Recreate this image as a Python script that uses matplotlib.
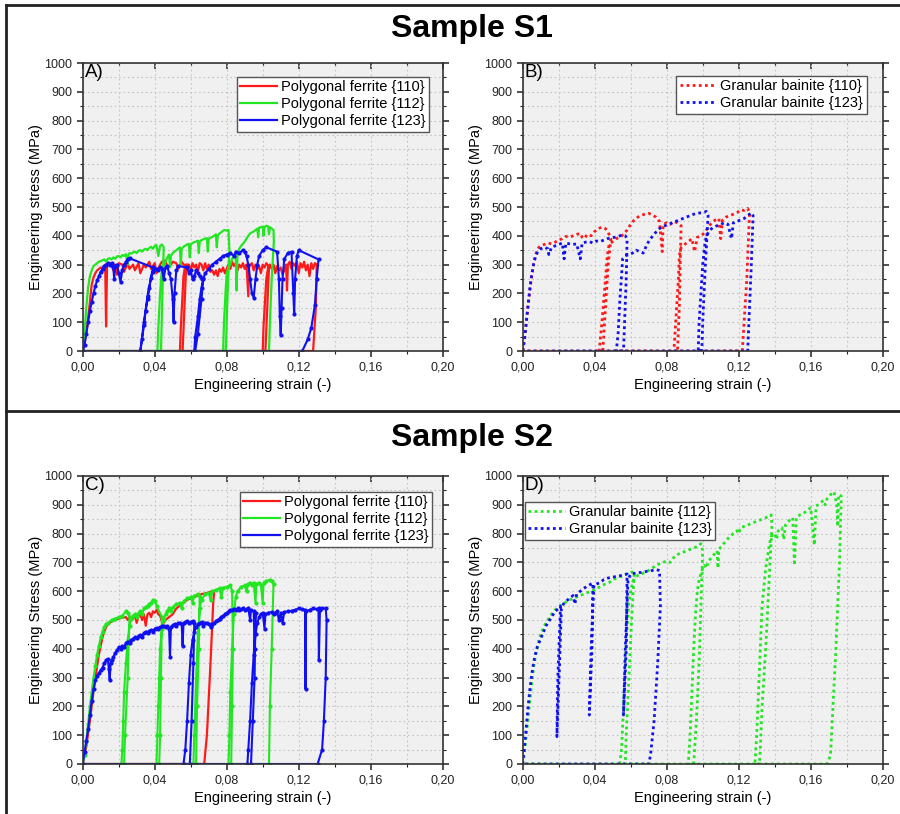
import matplotlib
matplotlib.use("Agg")
import matplotlib.pyplot as plt
from matplotlib.ticker import MultipleLocator, FuncFormatter
from matplotlib.lines import Line2D

plt.rcParams['font.family'] = ['Liberation Sans', 'DejaVu Sans']

RED = '#ff1a1a'
GREEN = '#22e622'
BLUE = '#1010f0'

# ---------------- Sample S1, polygonal ferrite ----------------
s1_pf110_strain = [
    0.000, 0.002, 0.004, 0.005, 0.006, 0.007, 0.008, 0.009, 0.010, 0.011, 0.012, 0.0125, 0.013, 0.0135,
    0.014, 0.016, 0.017, 0.018, 0.019, 0.020, 0.022, 0.023, 0.025, 0.026, 0.028, 0.029, 0.031, 0.032,
    0.034, 0.035, 0.037, 0.038, 0.040, 0.041, 0.043, 0.044, 0.046, 0.047, 0.049, 0.050, 0.052, 0.053,
    0.055, 0.056, 0.0575, 0.0555, 0.054, 0.0545, 0.056, 0.057,
    0.059, 0.060, 0.061, 0.062, 0.063, 0.064, 0.065, 0.066, 0.067, 0.068, 0.069, 0.070, 0.071, 0.072,
    0.073, 0.074, 0.075, 0.076, 0.077, 0.078, 0.079, 0.080, 0.081, 0.082, 0.083, 0.084, 0.085, 0.086,
    0.087, 0.088, 0.089, 0.090, 0.091, 0.092, 0.0925, 0.094, 0.095, 0.096, 0.097, 0.098, 0.099, 0.100,
    0.101, 0.102, 0.1035, 0.1015, 0.100, 0.1005, 0.102, 0.103,
    0.104, 0.105, 0.106, 0.107, 0.108, 0.109, 0.110, 0.111, 0.112, 0.113, 0.1135, 0.114, 0.115, 0.116,
    0.117, 0.118, 0.119, 0.120, 0.121, 0.122, 0.123, 0.124, 0.125, 0.126, 0.127, 0.128, 0.129, 0.130,
    0.1295, 0.128, 0.000]
s1_pf110_stress = [
    0, 60, 170, 230, 255, 270, 280, 285, 290, 288, 295, 300, 85, 290,
    300, 305, 280, 300, 265, 305, 300, 275, 305, 285, 300, 280, 305, 270,
    300, 290, 310, 285, 305, 270, 300, 310, 315, 290, 300, 310, 305, 285,
    310, 300, 295, 0, 0, 80, 260, 300,
    300, 280, 305, 290, 300, 275, 305, 300, 280, 305, 285, 300, 275, 280,
    265, 280, 260, 285, 275, 290, 270, 285, 300, 285, 310, 295, 305, 280,
    300, 290, 305, 285, 300, 190, 295, 305, 280, 300, 285, 295, 270, 300,
    290, 305, 290, 0, 0, 90, 250, 290,
    300, 285, 300, 270, 295, 280, 290, 265, 280, 300, 210, 300, 310, 285,
    305, 295, 310, 270, 305, 290, 310, 280, 300, 260, 305, 285, 305, 300,
    150, 0, 0]

s1_pf112_strain = [
    0.000, 0.001, 0.002, 0.003, 0.004, 0.005, 0.006, 0.007, 0.008, 0.009, 0.010, 0.011, 0.012, 0.013,
    0.014, 0.015, 0.016, 0.017, 0.018, 0.019, 0.020, 0.021, 0.022, 0.023, 0.024, 0.025, 0.0255, 0.026,
    0.027, 0.028, 0.029, 0.030, 0.031, 0.032, 0.033, 0.034, 0.035, 0.036, 0.037, 0.038, 0.039, 0.040,
    0.041, 0.042, 0.043, 0.044, 0.045, 0.0445, 0.0435, 0.0415, 0.042, 0.043, 0.0435, 0.044, 0.045,
    0.046, 0.047, 0.048, 0.0485, 0.049, 0.050, 0.051, 0.052, 0.053, 0.054, 0.0545, 0.055, 0.056, 0.057,
    0.058, 0.059, 0.0595, 0.060, 0.061, 0.062, 0.063, 0.064, 0.0645, 0.065, 0.066, 0.067, 0.068, 0.069,
    0.0695, 0.070, 0.071, 0.072, 0.073, 0.074, 0.0745, 0.075, 0.076, 0.077, 0.078, 0.079, 0.080, 0.081,
    0.0815, 0.0805, 0.0795, 0.078, 0.0785, 0.0795, 0.080, 0.081,
    0.082, 0.083, 0.084, 0.085, 0.0855, 0.086, 0.087, 0.088, 0.089, 0.090, 0.091, 0.092, 0.093, 0.094,
    0.095, 0.096, 0.097, 0.0975, 0.098, 0.099, 0.100, 0.1005, 0.101, 0.102, 0.103, 0.1035, 0.104, 0.105,
    0.106, 0.1062, 0.105, 0.104, 0.1035, 0.000]
s1_pf112_stress = [
    0, 60, 150, 220, 260, 280, 295, 300, 305, 310, 312, 315, 318, 310,
    320, 322, 318, 325, 320, 328, 330, 325, 333, 330, 336, 300, 335, 340,
    338, 342, 345, 340, 348, 350, 345, 352, 355, 350, 358, 362, 355, 365,
    368, 330, 365, 370, 360, 250, 0, 0, 80, 200, 250, 280, 300,
    310, 325, 335, 290, 330, 340, 345, 350, 355, 360, 300, 355, 362, 366,
    370, 372, 325, 370, 375, 378, 380, 383, 340, 380, 385, 388, 390, 392,
    345, 390, 393, 396, 400, 405, 360, 400, 408, 412, 418, 420, 418, 420,
    350, 200, 0, 0, 100, 220, 270, 290,
    300, 320, 330, 340, 210, 340, 355, 365, 372, 380, 390, 400, 408, 412,
    415, 420, 425, 395, 428, 430, 432, 400, 430, 435, 433, 405, 430, 425,
    420, 380, 250, 100, 0, 0]

s1_pf123_strain = [
    0.000, 0.001, 0.002, 0.003, 0.004, 0.005, 0.006, 0.007, 0.008, 0.009, 0.010, 0.011, 0.012, 0.013,
    0.014, 0.015, 0.016, 0.017, 0.0175, 0.018, 0.019, 0.020, 0.021, 0.022, 0.023, 0.024, 0.025, 0.026,
    0.039, 0.036, 0.034, 0.032, 0.033, 0.034, 0.035, 0.036, 0.037, 0.038, 0.039, 0.040, 0.041,
    0.042, 0.043, 0.044, 0.045, 0.046, 0.047, 0.048, 0.049, 0.050, 0.0505, 0.051, 0.052, 0.053,
    0.058, 0.059, 0.060, 0.061, 0.062, 0.063, 0.064, 0.065, 0.066, 0.067,
    0.066, 0.064, 0.0625, 0.062, 0.0625, 0.064, 0.065, 0.066, 0.067, 0.068, 0.070, 0.072, 0.074,
    0.076, 0.078, 0.080, 0.082, 0.084, 0.085, 0.087, 0.089, 0.090, 0.091, 0.092, 0.093, 0.094, 0.095,
    0.096, 0.097, 0.098, 0.100, 0.102, 0.108, 0.109, 0.1095, 0.110, 0.1105, 0.111, 0.112, 0.114,
    0.116, 0.117, 0.1175, 0.118, 0.119, 0.120, 0.131, 0.130, 0.129, 0.127, 0.125, 0.122, 0.000]
s1_pf123_stress = [
    0, 20, 60, 100, 140, 170, 200, 225, 245, 260, 275, 285, 295, 300,
    305, 300, 305, 290, 250, 295, 300, 270, 240, 280, 300, 310, 320, 322,
    290, 190, 100, 0, 40, 90, 140, 180, 220, 255, 275, 285, 285,
    280, 290, 285, 250, 290, 295, 270, 250, 180, 100, 200, 280, 295,
    290, 270, 280, 250, 260, 280, 270, 260, 250, 255,
    180, 60, 0, 0, 50, 120, 180, 220, 250, 270, 285, 300, 310,
    320, 330, 335, 340, 330, 345, 340, 350, 345, 330, 300, 250, 200, 185,
    250, 300, 330, 350, 360, 345, 250, 120, 55, 150, 250, 320, 340,
    345, 200, 130, 250, 330, 350, 318, 250, 160, 80, 40, 0, 0]

# ---------------- Sample S1, granular bainite ----------------
s1_gb110_strain = [
    0.000, 0.001, 0.002, 0.003, 0.004, 0.005, 0.006, 0.007, 0.008, 0.009, 0.010, 0.012, 0.014, 0.016,
    0.018, 0.020, 0.022, 0.024, 0.026, 0.028, 0.030, 0.032, 0.033, 0.034, 0.036, 0.038, 0.040, 0.042,
    0.044, 0.046, 0.048, 0.049, 0.0475, 0.046, 0.0445, 0.0425, 0.044, 0.046, 0.047, 0.048, 0.050, 0.052,
    0.054, 0.056, 0.058, 0.060, 0.062, 0.064, 0.066, 0.068, 0.070, 0.072, 0.074, 0.076, 0.0775, 0.078,
    0.080, 0.082, 0.084, 0.086, 0.088, 0.0875, 0.087, 0.086, 0.084, 0.085, 0.0865, 0.087, 0.088, 0.090,
    0.092, 0.094, 0.0955, 0.097, 0.099, 0.101, 0.103, 0.105, 0.107, 0.109, 0.110, 0.111, 0.113, 0.115,
    0.117, 0.119, 0.121, 0.123, 0.125, 0.126, 0.1245, 0.122, 0.000]
s1_gb110_stress = [
    0, 40, 100, 160, 210, 260, 300, 330, 350, 360, 365, 370, 375, 372,
    378, 385, 390, 398, 395, 400, 405, 408, 395, 390, 405, 400, 415, 425,
    430, 425, 405, 390, 300, 150, 0, 0, 100, 250, 330, 370, 380, 390,
    395, 405, 420, 440, 455, 465, 472, 475, 478, 472, 465, 450, 345, 440,
    445, 440, 450, 445, 435, 300, 150, 0, 0, 100, 250, 330, 360, 370,
    380, 390, 345, 395, 400, 410, 430, 445, 455, 460, 390, 455, 465, 470,
    475, 480, 490, 488, 495, 480, 250, 0, 0]

s1_gb123_strain = [
    0.000, 0.001, 0.002, 0.003, 0.004, 0.005, 0.006, 0.007, 0.008, 0.009, 0.010, 0.012, 0.014, 0.0145,
    0.016, 0.018, 0.020, 0.022, 0.023, 0.024, 0.026, 0.028, 0.030, 0.032, 0.033, 0.035, 0.037, 0.039,
    0.041, 0.043, 0.045, 0.047, 0.049, 0.051, 0.053, 0.055, 0.057, 0.058, 0.0575, 0.056, 0.052, 0.053,
    0.054, 0.055, 0.0555, 0.057, 0.059, 0.061, 0.063, 0.065, 0.067, 0.069, 0.071, 0.073, 0.075, 0.077,
    0.079, 0.081, 0.083, 0.085, 0.087, 0.089, 0.091, 0.093, 0.095, 0.097, 0.099, 0.101, 0.102, 0.103,
    0.1015, 0.100, 0.0995, 0.0975, 0.098, 0.099, 0.100, 0.101, 0.102, 0.104, 0.106, 0.108, 0.110, 0.112,
    0.114, 0.116, 0.117, 0.119, 0.121, 0.123, 0.125, 0.127, 0.128, 0.127, 0.125, 0.000]
s1_gb123_stress = [
    0, 40, 100, 160, 220, 265, 300, 325, 340, 350, 355, 360, 355, 335,
    360, 365, 370, 375, 320, 375, 372, 370, 372, 320, 375, 378, 380, 375,
    382, 380, 385, 390, 392, 395, 398, 402, 400, 390, 250, 0, 0, 60,
    180, 270, 320, 330, 335, 340, 350, 345, 340, 370, 390, 405, 420, 430,
    435, 440, 445, 450, 455, 460, 465, 470, 475, 478, 480, 482, 485, 470,
    300, 100, 0, 0, 100, 200, 300, 360, 400, 420, 430, 435, 440, 445,
    440, 390, 445, 450, 455, 460, 470, 480, 470, 300, 0, 0]

# ---------------- Sample S2, polygonal ferrite ----------------
s2_pf110_strain = [
    0.000, 0.002, 0.004, 0.006, 0.008, 0.009, 0.010, 0.011, 0.012, 0.013, 0.014, 0.016, 0.018, 0.020,
    0.022, 0.024, 0.025, 0.026, 0.028, 0.029, 0.030, 0.031, 0.032, 0.033, 0.034, 0.035, 0.036, 0.037,
    0.038, 0.039, 0.040, 0.041, 0.042, 0.043, 0.044, 0.045, 0.046, 0.048, 0.050, 0.052, 0.054, 0.056,
    0.058, 0.060, 0.062, 0.064, 0.066, 0.068, 0.070, 0.072, 0.073, 0.0725, 0.071, 0.069, 0.0675, 0.000]
s2_pf110_stress = [
    0, 60, 150, 250, 340, 380, 410, 440, 460, 475, 485, 495, 500, 505,
    508, 510, 500, 512, 505, 515, 490, 515, 520, 500, 520, 480, 520, 525,
    510, 530, 525, 535, 520, 515, 495, 490, 500, 510, 520, 540, 550, 560,
    570, 575, 580, 585, 590, 592, 596, 600, 595, 560, 350, 100, 0, 0]

s2_pf112_strain = [
    0.000, 0.001, 0.002, 0.003, 0.004, 0.005, 0.006, 0.007, 0.008, 0.009, 0.010, 0.011, 0.012, 0.013,
    0.014, 0.016, 0.018, 0.020, 0.022, 0.024, 0.025, 0.026, 0.025, 0.0235, 0.023, 0.0215, 0.022, 0.0225,
    0.023, 0.024, 0.025, 0.026, 0.027, 0.028, 0.029, 0.030, 0.031, 0.032, 0.033, 0.034, 0.035, 0.036,
    0.037, 0.038, 0.039, 0.040, 0.041, 0.044, 0.0435, 0.043, 0.0425, 0.041, 0.0415, 0.042, 0.0425, 0.043,
    0.044, 0.045, 0.046, 0.047, 0.048, 0.049, 0.050, 0.052, 0.054, 0.055, 0.056, 0.058, 0.060, 0.061,
    0.062, 0.064, 0.065, 0.0645, 0.0635, 0.063, 0.0615, 0.062, 0.063, 0.064, 0.065, 0.066, 0.068, 0.070,
    0.071, 0.072, 0.074, 0.076, 0.077, 0.078, 0.080, 0.082, 0.083, 0.0835, 0.083, 0.0825, 0.081, 0.0815,
    0.082, 0.083, 0.084, 0.085, 0.086, 0.088, 0.090, 0.091, 0.092, 0.093, 0.094, 0.095, 0.096, 0.0965,
    0.098, 0.099, 0.100, 0.1005, 0.102, 0.104, 0.105, 0.106, 0.105, 0.104, 0.1035, 0.000]
s2_pf112_stress = [
    0, 30, 80, 140, 200, 250, 300, 340, 380, 410, 440, 460, 475, 485,
    490, 500, 505, 510, 515, 530, 525, 510, 300, 100, 0, 0, 50, 150,
    250, 350, 430, 480, 505, 515, 520, 510, 525, 530, 520, 540, 545, 550,
    555, 560, 570, 565, 550, 510, 300, 100, 0, 0, 100, 200, 300, 400,
    470, 500, 520, 530, 540, 530, 545, 555, 560, 540, 565, 575, 580, 560,
    585, 590, 580, 400, 200, 0, 0, 100, 300, 450, 540, 570, 590, 595,
    570, 600, 605, 610, 580, 612, 615, 620, 600, 400, 200, 0, 0, 100,
    250, 400, 520, 580, 600, 615, 620, 600, 625, 630, 620, 630, 560, 625,
    630, 620, 560, 630, 635, 640, 635, 625, 400, 200, 0, 0]

s2_pf123_strain = [
    0.000, 0.001, 0.002, 0.003, 0.004, 0.005, 0.006, 0.007, 0.008, 0.009, 0.010, 0.011, 0.012, 0.013,
    0.014, 0.0145, 0.015, 0.0155, 0.016, 0.017, 0.018, 0.019, 0.020, 0.021, 0.022, 0.023, 0.024, 0.025,
    0.026, 0.027, 0.028, 0.029, 0.030, 0.031, 0.032, 0.033, 0.034, 0.035, 0.036, 0.037, 0.038, 0.039,
    0.040, 0.041, 0.042, 0.043, 0.044, 0.045, 0.046, 0.047, 0.048, 0.0485, 0.049, 0.050, 0.051, 0.052,
    0.053, 0.054, 0.055, 0.0555, 0.056, 0.057, 0.058, 0.059, 0.060, 0.061, 0.062, 0.0615, 0.0605, 0.0595,
    0.056, 0.057, 0.058, 0.059, 0.060, 0.061, 0.062, 0.063, 0.064, 0.065, 0.066, 0.067, 0.068, 0.069,
    0.070, 0.071, 0.0715, 0.072, 0.073, 0.074, 0.075, 0.076, 0.077, 0.078, 0.079, 0.080, 0.081, 0.082,
    0.083, 0.084, 0.085, 0.086, 0.087, 0.088, 0.089, 0.090, 0.091, 0.092, 0.093, 0.0935, 0.095, 0.0955,
    0.096, 0.0955, 0.0945, 0.0935, 0.0915, 0.092, 0.093, 0.094, 0.095, 0.096, 0.097, 0.098, 0.099, 0.100,
    0.101, 0.1015, 0.103, 0.105, 0.106, 0.107, 0.108, 0.109, 0.110, 0.111, 0.112, 0.114, 0.116, 0.118,
    0.120, 0.122, 0.1235, 0.1238, 0.124, 0.126, 0.128, 0.130, 0.131, 0.1312, 0.1318, 0.133, 0.135, 0.1355,
    0.135, 0.134, 0.133, 0.1305, 0.000]
s2_pf123_stress = [
    0, 40, 80, 120, 170, 220, 260, 290, 305, 315, 325, 335, 350, 360,
    365, 330, 290, 350, 360, 370, 385, 395, 405, 400, 410, 405, 420, 425,
    420, 430, 435, 440, 438, 445, 448, 440, 455, 460, 455, 462, 465, 460,
    470, 472, 470, 475, 478, 480, 475, 478, 470, 370, 475, 482, 485, 480,
    488, 490, 485, 410, 488, 492, 495, 490, 493, 495, 490, 350, 150, 0,
    0, 50, 150, 280, 380, 430, 460, 475, 485, 490, 492, 480, 488, 490,
    485, 480, 475, 485, 490, 495, 500, 505, 510, 515, 520, 525, 530, 535,
    533, 538, 535, 540, 535, 538, 540, 535, 538, 540, 500, 535, 530, 400,
    525, 300, 150, 0, 0, 50, 150, 280, 380, 450, 490, 510, 520, 525,
    470, 520, 525, 528, 520, 525, 530, 500, 525, 490, 528, 530, 532, 535,
    540, 538, 535, 260, 530, 535, 540, 538, 540, 360, 535, 540, 540, 500,
    300, 150, 50, 0, 0]

# ---------------- Sample S2, granular bainite ----------------
s2_gb112_strain = [
    0.000, 0.001, 0.002, 0.003, 0.004, 0.005, 0.006, 0.007, 0.008, 0.009, 0.010, 0.012, 0.014, 0.016,
    0.018, 0.020, 0.022, 0.024, 0.026, 0.028, 0.030, 0.032, 0.034, 0.036, 0.038, 0.040, 0.042, 0.044,
    0.046, 0.048, 0.050, 0.052, 0.054, 0.056, 0.058, 0.060, 0.062, 0.0605, 0.059, 0.0575, 0.057, 0.054,
    0.055, 0.056, 0.057, 0.058, 0.059, 0.060, 0.061, 0.062, 0.064, 0.066, 0.068, 0.070, 0.072, 0.074,
    0.076, 0.078, 0.080, 0.082, 0.083, 0.085, 0.087, 0.089, 0.091, 0.093, 0.095, 0.097, 0.099, 0.100,
    0.099, 0.098, 0.0965, 0.095, 0.092, 0.093, 0.094, 0.095, 0.096, 0.097, 0.098, 0.099, 0.100, 0.101,
    0.102, 0.103, 0.104, 0.106, 0.108, 0.1085, 0.109, 0.111, 0.113, 0.115, 0.117, 0.119, 0.120, 0.121,
    0.123, 0.125, 0.127, 0.129, 0.131, 0.133, 0.135, 0.137, 0.138, 0.1385, 0.137, 0.135, 0.133, 0.132,
    0.1315, 0.129, 0.130, 0.131, 0.132, 0.133, 0.135, 0.137, 0.138, 0.140, 0.141, 0.142, 0.144, 0.145,
    0.146, 0.148, 0.150, 0.151, 0.152, 0.154, 0.156, 0.158, 0.160, 0.162, 0.163, 0.165, 0.167, 0.168,
    0.169, 0.171, 0.173, 0.1745, 0.175, 0.1755, 0.177, 0.176, 0.174, 0.172, 0.171, 0.169, 0.000]
s2_gb112_stress = [
    0, 40, 100, 160, 220, 280, 330, 370, 400, 430, 450, 480, 500, 520,
    535, 545, 555, 562, 570, 575, 580, 585, 590, 595, 600, 605, 612, 620,
    625, 630, 640, 645, 650, 655, 660, 665, 668, 500, 300, 100, 0, 0,
    60, 200, 350, 480, 560, 600, 630, 645, 655, 660, 665, 672, 680, 690,
    695, 700, 705, 700, 710, 725, 730, 735, 740, 745, 750, 755, 765, 740,
    550, 350, 150, 0, 0, 100, 250, 400, 520, 600, 640, 660, 680, 690,
    680, 700, 710, 725, 740, 680, 745, 760, 775, 790, 800, 810, 800, 820,
    825, 830, 835, 840, 845, 850, 855, 860, 865, 830, 650, 400, 200, 50,
    0, 0, 100, 250, 400, 550, 680, 760, 790, 800, 780, 810, 820, 780,
    830, 845, 855, 690, 855, 865, 870, 880, 890, 760, 895, 905, 915, 900,
    920, 935, 945, 900, 825, 935, 930, 700, 400, 150, 30, 0, 0]

s2_gb123_strain = [
    0.000, 0.001, 0.002, 0.003, 0.004, 0.005, 0.006, 0.007, 0.008, 0.009, 0.010, 0.011, 0.012, 0.013,
    0.014, 0.015, 0.016, 0.017, 0.018, 0.019, 0.020, 0.021, 0.0195, 0.019, 0.0205, 0.0215, 0.023, 0.025,
    0.027, 0.028, 0.029, 0.030, 0.032, 0.034, 0.036, 0.038, 0.039, 0.0385, 0.037, 0.038, 0.0395, 0.041,
    0.043, 0.045, 0.047, 0.049, 0.051, 0.053, 0.055, 0.057, 0.058, 0.0575, 0.056, 0.057, 0.0585, 0.060,
    0.062, 0.064, 0.066, 0.068, 0.070, 0.072, 0.074, 0.076, 0.0765, 0.075, 0.073, 0.071, 0.070, 0.000]
s2_gb123_stress = [
    0, 60, 130, 200, 260, 310, 350, 380, 405, 420, 435, 450, 465, 480,
    490, 500, 510, 520, 530, 535, 540, 548, 300, 95, 350, 540, 560, 570,
    580, 585, 555, 590, 600, 610, 618, 625, 628, 400, 170, 400, 620, 625,
    630, 640, 645, 648, 650, 652, 655, 658, 660, 400, 170, 400, 640, 660,
    662, 665, 665, 668, 670, 672, 675, 672, 550, 350, 150, 30, 0, 0]

# ---------------- labels and axis settings ----------------
pf_labels = ['Polygonal ferrite {110}', 'Polygonal ferrite {112}', 'Polygonal ferrite {123}']
gb_labels_s1 = ['Granular bainite {110}', 'Granular bainite {123}']
gb_labels_s2 = ['Granular bainite {112}', 'Granular bainite {123}']
x_ticks = [0.00, 0.04, 0.08, 0.12, 0.16, 0.20]
y_ticks = [0, 100, 200, 300, 400, 500, 600, 700, 800, 900, 1000]

FIG_W, FIG_H = 900, 814
fig = plt.figure(figsize=(FIG_W / 100, FIG_H / 100), dpi=100)


def px_axes(left, top, right, bottom):
    return fig.add_axes([left / FIG_W, 1 - bottom / FIG_H,
                         (right - left) / FIG_W, (bottom - top) / FIG_H])


def style_axes(ax, letter, ylabel):
    ax.set_facecolor('#f0f0f0')
    ax.set_xlim(0, 0.20)
    ax.set_ylim(0, 1000)
    ax.set_xticks(x_ticks)
    ax.set_yticks(y_ticks)
    ax.xaxis.set_minor_locator(MultipleLocator(0.02))
    ax.yaxis.set_minor_locator(MultipleLocator(50))
    ax.xaxis.set_major_formatter(FuncFormatter(lambda v, p: f"{v:.2f}".replace('.', ',')))
    ax.grid(which='both', linestyle=(0, (1.5, 2.5)), color='#c4c4c4', linewidth=0.8)
    ax.set_axisbelow(True)
    ax.tick_params(which='both', direction='out', labelsize=9, colors='#222222', right=True)
    ax.tick_params(which='major', length=4, width=1.1)
    ax.tick_params(which='minor', length=2.5, width=0.8)
    # inward ticks along the top edge
    top = ax.secondary_xaxis('top')
    top.set_xticks(x_ticks)
    top.xaxis.set_minor_locator(MultipleLocator(0.02))
    top.tick_params(which='both', direction='in', labeltop=False, colors='#222222')
    top.tick_params(which='major', length=4, width=1.1)
    top.tick_params(which='minor', length=2.5, width=0.8)
    top.spines['top'].set_visible(False)
    for s in ax.spines.values():
        s.set_color('#333333')
        s.set_linewidth(1.2)
    ax.set_xlabel('Engineering strain (-)', fontsize=10.5)
    ax.set_ylabel(ylabel, fontsize=10.5)
    ax.xaxis.set_label_coords(0.5, -0.095)
    ax.yaxis.set_label_coords(-0.11, 0.5)
    ax.text(0.006, 0.995, letter, transform=ax.transAxes, ha='left', va='top', fontsize=13.5)


def add_legend(ax, entries, labels, loc, anchor):
    handles = [Line2D([], [], color=c, **st) for c, st in entries]
    lg = ax.legend(handles, labels, loc=loc, bbox_to_anchor=anchor, fontsize=10.5, frameon=True,
                   fancybox=False, handlelength=2.5, handletextpad=0.3, labelspacing=0.22,
                   borderpad=0.22, borderaxespad=0)
    lg.get_frame().set_edgecolor('#555555')
    lg.get_frame().set_linewidth(1.0)
    lg.get_frame().set_facecolor('white')
    lg.get_frame().set_alpha(1)


solid = dict(linestyle='-', linewidth=1.6)
dotted = dict(linestyle=(0, (1, 1.2)), linewidth=2.0)
marked = dict(linestyle='-', linewidth=1.5, marker='o', markersize=2.0)

# Panel A: sample S1, polygonal ferrite
axA = px_axes(82.7, 63, 442.7, 351)
axA.plot(s1_pf110_strain, s1_pf110_stress, color=RED, **solid)
axA.plot(s1_pf112_strain, s1_pf112_stress, color=GREEN, **solid)
axA.plot(s1_pf123_strain, s1_pf123_stress, color=BLUE, **marked)
style_axes(axA, 'A)', 'Engineering stress (MPa)')
add_legend(axA, [(RED, solid), (GREEN, solid), (BLUE, solid)], pf_labels,
           'upper right', (0.962, 0.952))

# Panel B: sample S1, granular bainite
axB = px_axes(522.7, 63, 882.7, 351)
axB.plot(s1_gb110_strain, s1_gb110_stress, color=RED, **dotted)
axB.plot(s1_gb123_strain, s1_gb123_stress, color=BLUE, **dotted)
style_axes(axB, 'B)', 'Engineering stress (MPa)')
add_legend(axB, [(RED, dotted), (BLUE, dotted)], gb_labels_s1, 'upper right', (0.955, 0.955))

# Panel C: sample S2, polygonal ferrite
axC = px_axes(82.7, 476, 442.7, 764)
axC.plot(s2_pf110_strain, s2_pf110_stress, color=RED, **solid)
axC.plot(s2_pf112_strain, s2_pf112_stress, color=GREEN, **marked)
axC.plot(s2_pf123_strain, s2_pf123_stress, color=BLUE, **marked)
style_axes(axC, 'C)', 'Engineering Stress (MPa)')
add_legend(axC, [(RED, solid), (GREEN, solid), (BLUE, solid)], pf_labels,
           'upper right', (0.970, 0.945))

# Panel D: sample S2, granular bainite
axD = px_axes(522.7, 476, 882.7, 764)
axD.plot(s2_gb112_strain, s2_gb112_stress, color=GREEN, **dotted)
axD.plot(s2_gb123_strain, s2_gb123_stress, color=BLUE, **dotted)
style_axes(axD, 'D)', 'Engineering Stress (MPa)')
add_legend(axD, [(GREEN, dotted), (BLUE, dotted)], gb_labels_s2, 'upper left', (0.006, 0.91))

# Section titles
fig.text(0.524, 1 - 29 / FIG_H, 'Sample S1', ha='center', va='center', fontsize=23, fontweight='bold')
fig.text(0.524, 1 - 438 / FIG_H, 'Sample S2', ha='center', va='center', fontsize=23, fontweight='bold')

# Panel frame lines
fig.add_artist(Line2D([6 / FIG_W, 1], [1 - 5 / FIG_H, 1 - 5 / FIG_H], color='#222222', lw=2))
fig.add_artist(Line2D([6 / FIG_W, 6 / FIG_W], [0, 1 - 5 / FIG_H], color='#222222', lw=2))
fig.add_artist(Line2D([6 / FIG_W, 1], [1 - 411 / FIG_H, 1 - 411 / FIG_H], color='#222222', lw=2))

fig.savefig('out.png', dpi=100)
